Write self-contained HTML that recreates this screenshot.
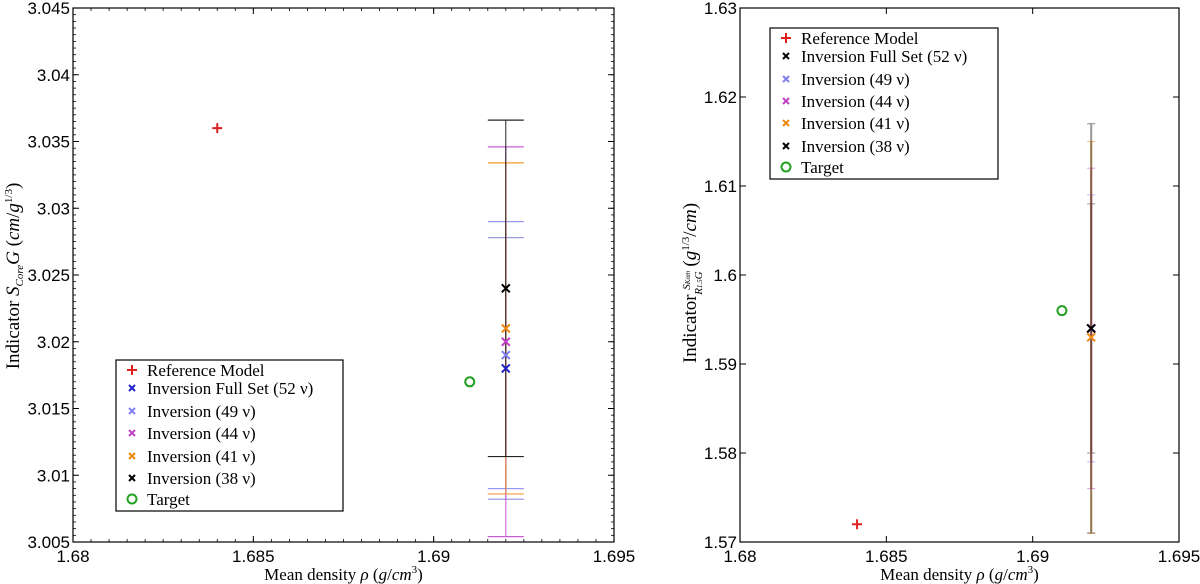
<!DOCTYPE html>
<html><head><meta charset="utf-8"><style>
body{margin:0;background:#fff;}
svg{display:block;}
.tick{font-family:"Liberation Sans",sans-serif;font-size:17px;fill:#000;}
.ser{font-family:"Liberation Serif",serif;fill:#000;}
</style></head><body>
<svg id="c" width="1200" height="584" xmlns="http://www.w3.org/2000/svg"></svg>
<script>
// ---- data ----
const leftRef = [1.684, 3.036];
const leftTarget = [1.691, 3.017];
const leftInvX = 1.692;
const leftInvLabels = ["52", "49", "44", "41", "38"];
const leftInvVals = [3.018, 3.019, 3.020, 3.021, 3.024];
const leftInvErr = [0.0098, 0.0100, 0.0146, 0.0124, 0.0126];
const rightRef = [1.684, 1.572];
const rightTarget = [1.691, 1.596];
const rightInvX = 1.692;
const rightInvVals = [1.594, 1.594, 1.594, 1.593, 1.594];
const rightInvErr = [0.014, 0.015, 0.018, 0.022, 0.023];
const xTicks = [1.68, 1.685, 1.69, 1.695];
const xTickLabels = ["1.68", "1.685", "1.69", "1.695"];
const leftYTicks = [3.005, 3.01, 3.015, 3.02, 3.025, 3.03, 3.035, 3.04, 3.045];
const leftYTickLabels = ["3.005", "3.01", "3.015", "3.02", "3.025", "3.03", "3.035", "3.04", "3.045"];
const rightYTicks = [1.57, 1.58, 1.59, 1.6, 1.61, 1.62, 1.63];
const rightYTickLabels = ["1.57", "1.58", "1.59", "1.6", "1.61", "1.62", "1.63"];
const leftColors = ["#2222c8", "#8080f0", "#c040c8", "#f08a10", "#000000"];
const rightColors = ["#000000", "#8080f0", "#c040c8", "#f08a10", "#000000"];
const legendLabels = ["Reference Model", "Inversion Full Set (52 ν)", "Inversion (49 ν)", "Inversion (44 ν)", "Inversion (41 ν)", "Inversion (38 ν)", "Target"];

const NS = "http://www.w3.org/2000/svg";
const svg = document.getElementById('c');
function mk(tag, attrs, parent) {
  const e = document.createElementNS(NS, tag);
  for (const k in attrs) e.setAttribute(k, attrs[k]);
  (parent || svg).appendChild(e);
  return e;
}
function cross(g, x, y, col) {
  mk('path', {d:`M${x-4},${y-4}L${x+4},${y+4}M${x-4},${y+4}L${x+4},${y-4}`, stroke:col, 'stroke-width':2}, g);
}
function plus(g, x, y, col) {
  mk('path', {d:`M${x-5},${y}L${x+5},${y}M${x},${y-5}L${x},${y+5}`, stroke:col, 'stroke-width':2}, g);
}

function panel(opt) {
  const {L, R, T, B, x0, x1, y0, y1} = opt;
  const sx = v => L + (v - x0) / (x1 - x0) * (R - L);
  const sy = v => B - (v - y0) / (y1 - y0) * (B - T);
  const g = mk('g', {});
  
  
  if (opt.minor) {
    for (let v = x0; v <= x1 + 1e-9; v += 0.0005) {
      const x = sx(v);
      mk('line', {x1:x, x2:x, y1:B, y2:B-3, stroke:'#000', 'stroke-width':0.8}, g);
      mk('line', {x1:x, x2:x, y1:T, y2:T+3, stroke:'#000', 'stroke-width':0.8}, g);
    }
    for (let v = y0; v <= y1 + 1e-9; v += 0.0005) {
      const y = sy(v);
      mk('line', {x1:L, x2:L+3, y1:y, y2:y, stroke:'#000', 'stroke-width':0.8}, g);
      mk('line', {x1:R, x2:R-3, y1:y, y2:y, stroke:'#000', 'stroke-width':0.8}, g);
    }
  }
  xTicks.forEach((v, i) => {
    const x = sx(v);
    mk('line', {x1:x, x2:x, y1:B, y2:B-6, stroke:'#000'}, g);
    mk('line', {x1:x, x2:x, y1:T, y2:T+6, stroke:'#000'}, g);
    const t = mk('text', {x:x, y:B+20, 'text-anchor':'middle', class:'tick'}, g);
    t.textContent = xTickLabels[i];
    
    
  });
  opt.yTicks.forEach((v, i) => {
    const y = sy(v);
    mk('line', {x1:L, x2:L+6, y1:y, y2:y, stroke:'#000'}, g);
    mk('line', {x1:R, x2:R-6, y1:y, y2:y, stroke:'#000'}, g);
    const t = mk('text', {x:L-3, y:y+6, 'text-anchor':'end', class:'tick'}, g);
    t.textContent = opt.yLabels[i];
    
    
  });
  const fr = mk('rect', {x:L, y:T, width:R-L, height:B-T, fill:'none', stroke:'#000', 'stroke-width':1.2}, g);
  
  
  const ix = sx(opt.invX);
  opt.vals.forEach((v, i) => {
    const eb = mk('g', {opacity: opt.ebOpacity[i]}, g);
    
    
    const ya = sy(v + opt.errs[i]), yb = sy(v - opt.errs[i]);
    mk('line', {x1:ix, x2:ix, y1:ya, y2:yb, stroke:opt.colors[i], 'stroke-width':opt.ebW}, eb);
    mk('line', {x1:ix-opt.cap, x2:ix+opt.cap, y1:ya, y2:ya, stroke:opt.colors[i], 'stroke-width':1.2}, eb);
    mk('line', {x1:ix-opt.cap, x2:ix+opt.cap, y1:yb, y2:yb, stroke:opt.colors[i], 'stroke-width':1.2}, eb);
  });
  opt.vals.forEach((v, i) => {
    const m = mk('g', {}, g);
    
    
    cross(m, ix, sy(v), opt.colors[i]);
  });
  const rp = mk('g', {}, g);
  
  
  plus(rp, sx(opt.ref[0]), sy(opt.ref[1]), '#e02020');
  const tp = mk('circle', {cx:sx(opt.target[0]), cy:sy(opt.target[1]), r:4.5, fill:'none', stroke:'#22a022', 'stroke-width':2}, g);
  
  
  const lg = mk('g', {}, g);
  
  
  const [lx, ly, lw, lh] = opt.leg;
  mk('rect', {x:lx, y:ly, width:lw, height:lh, fill:'#fff', stroke:'#000', 'stroke-width':1.2}, lg);
  const cols = ['#e02020'].concat(opt.colors, ['#22a022']);
  opt.rows.forEach((ry, i) => {
    const e = mk('g', {}, lg);
    
    
    const mx = lx + 16;
    if (i === 0) plus(e, mx, ry, cols[i]);
    else if (i === 6) mk('circle', {cx:mx, cy:ry, r:4.5, fill:'none', stroke:cols[i], 'stroke-width':2}, e);
    else mk('path', {d:`M${mx-3},${ry-3}L${mx+3},${ry+3}M${mx-3},${ry+3}L${mx+3},${ry-3}`, stroke:cols[i], 'stroke-width':2}, e);
    const t = mk('text', {x:lx+31, y:ry+6, class:'ser', 'font-size':17}, e);
    t.textContent = legendLabels[i];
  });
  const xt = mk('text', {x:(L+R)/2, y:580, 'text-anchor':'middle', class:'ser', 'font-size':17}, g);
  
  
  xt.innerHTML = 'Mean density <tspan font-style="italic">ρ</tspan> (<tspan font-style="italic">g</tspan>/<tspan font-style="italic">cm</tspan><tspan dy="-7" font-size="11">3</tspan><tspan dy="7">)</tspan>';
  return g;
}

panel({name:'left-chart', L:73, R:614, T:8, B:542, x0:1.68, x1:1.695, y0:3.005, y1:3.045, minor:true,
  yTicks:leftYTicks, yLabels:leftYTickLabels, invX:leftInvX, vals:leftInvVals, errs:leftInvErr,
  colors:leftColors, ref:leftRef, target:leftTarget, cap:18, ebW:1, ebOpacity:[0.45,0.8,0.85,0.85,0.85],
  leg:[116,360,227,151], rows:[370,388,411,433,456,478,499]});
panel({name:'right-chart', L:740, R:1179, T:8, B:542, x0:1.68, x1:1.695, y0:1.57, y1:1.63, minor:false,
  yTicks:rightYTicks, yLabels:rightYTickLabels, invX:rightInvX, vals:rightInvVals, errs:rightInvErr,
  colors:rightColors, ref:rightRef, target:rightTarget, cap:4, ebW:2, ebOpacity:[0.35,0.45,0.45,0.5,0.4],
  leg:[770,28,228,151], rows:[38,56,79,101,123,146,167]});

const yl = mk('text', {transform:'translate(19,276) rotate(-90)', 'text-anchor':'middle', class:'ser', 'font-size':19});


yl.innerHTML = 'Indicator <tspan font-style="italic">S</tspan><tspan dy="4" font-size="11" font-style="italic">Core</tspan><tspan dy="-4" font-style="italic">G</tspan> (<tspan font-style="italic">cm</tspan>/<tspan font-style="italic">g</tspan><tspan dy="-7" font-size="11">1/3</tspan><tspan dy="7">)</tspan>';
const yr = mk('text', {transform:'translate(696,283) rotate(-90)', 'text-anchor':'middle', class:'ser', 'font-size':19});


yr.innerHTML = 'Indicator <tspan font-size="11" font-style="italic" dy="-6">S<tspan font-size="7">Kαm</tspan></tspan><tspan font-size="11" font-style="italic" dx="-24" dy="12">R<tspan font-size="7">1.5</tspan>G</tspan><tspan dy="-6"> (</tspan><tspan font-style="italic">g</tspan><tspan dy="-7" font-size="11">1/3</tspan><tspan dy="7">/</tspan><tspan font-style="italic">cm</tspan>)';
</script>
</body></html>
